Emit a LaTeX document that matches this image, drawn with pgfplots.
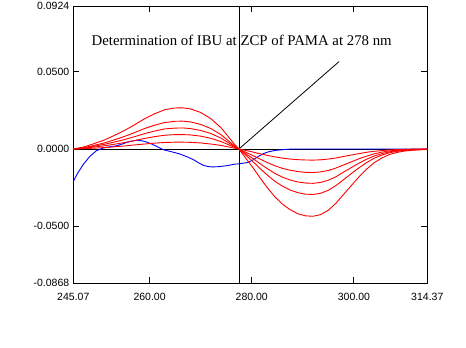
\documentclass[border=0pt]{standalone}
\usepackage{pgfplots}
\usepackage{pgfplotstable}
\pgfplotsset{compat=1.18}
\usepackage{fontspec}
\setmainfont{Liberation Sans}
\newfontfamily\titlefont{Liberation Serif}

\pgfplotstableread{
x a b c d e
245.07 0 0 0 0 0
247.0 0.0012 0.0008 0.0006 0.0004 0.0002
249.0 0.0033 0.0022 0.0017 0.0012 0.0005
251.0 0.0056 0.0038 0.0029 0.0020 0.0009
253.0 0.0086 0.0058 0.0044 0.0030 0.0014
255.0 0.0118 0.0080 0.0060 0.0041 0.0019
257.0 0.0155 0.0105 0.0079 0.0054 0.0026
259.0 0.0195 0.0132 0.0099 0.0068 0.0032
261.0 0.0228 0.0154 0.0116 0.0080 0.0038
263.0 0.0254 0.0171 0.0130 0.0089 0.0042
265.0 0.0265 0.0179 0.0135 0.0093 0.0044
266.5 0.0266 0.0180 0.0136 0.0093 0.0044
268.0 0.0259 0.0175 0.0132 0.0091 0.0043
270.0 0.0236 0.0159 0.0120 0.0083 0.0039
272.0 0.0196 0.0132 0.0100 0.0069 0.0032
274.0 0.0137 0.0092 0.0070 0.0048 0.0023
275.5 0.0076 0.0051 0.0039 0.0027 0.0013
276.5 0.0035 0.0024 0.0018 0.0012 0.0006
277.5 0 0 0 0 0
278.5 -0.0045 -0.0030 -0.0023 -0.0016 -0.0007
280.0 -0.0110 -0.0074 -0.0056 -0.0039 -0.0018
281.5 -0.0180 -0.0122 -0.0092 -0.0063 -0.0030
283.0 -0.0248 -0.0167 -0.0126 -0.0087 -0.0041
284.5 -0.0308 -0.0208 -0.0157 -0.0108 -0.0051
286.0 -0.0356 -0.0240 -0.0182 -0.0125 -0.0059
287.5 -0.0392 -0.0265 -0.0200 -0.0137 -0.0065
289.0 -0.0418 -0.0282 -0.0213 -0.0146 -0.0069
290.5 -0.0432 -0.0292 -0.0220 -0.0151 -0.0071
292.0 -0.0435 -0.0294 -0.0222 -0.0152 -0.0072
293.5 -0.0424 -0.0286 -0.0216 -0.0148 -0.0070
295.0 -0.0396 -0.0267 -0.0202 -0.0139 -0.0065
296.5 -0.0350 -0.0236 -0.0179 -0.0123 -0.0058
298.0 -0.0293 -0.0198 -0.0149 -0.0103 -0.0048
299.5 -0.0236 -0.0159 -0.0120 -0.0083 -0.0039
301.0 -0.0180 -0.0122 -0.0092 -0.0063 -0.0030
302.5 -0.0130 -0.0088 -0.0066 -0.0046 -0.0021
304.0 -0.0088 -0.0059 -0.0045 -0.0031 -0.0015
305.5 -0.0058 -0.0039 -0.0030 -0.0020 -0.0010
307.0 -0.0035 -0.0024 -0.0018 -0.0012 -0.0006
308.5 -0.0022 -0.0015 -0.0011 -0.0008 -0.0004
310.0 -0.0013 -0.0009 -0.0007 -0.0005 -0.0002
312.0 -0.0007 -0.0005 -0.0004 -0.0002 -0.0001
314.37 -0.0003 -0.0002 -0.0002 -0.0001 0
}\reddata

\pgfplotstableread{
x y
245.07 -0.0209
246.0 -0.0152
247.0 -0.0101
248.3 -0.0048
249.6 -0.0011
250.9 0.0006
252.2 0.0014
253.6 0.0021
255.0 0.0036
256.2 0.0049
257.5 0.0056
258.5 0.0053
259.4 0.0045
260.4 0.0032
261.4 0.0017
262.7 -0.0005
264.3 -0.0018
265.9 -0.0032
267.3 -0.0050
268.6 -0.0069
269.6 -0.0090
270.5 -0.0105
271.4 -0.0113
272.2 -0.0116
273.6 -0.0114
275.1 -0.0108
276.7 -0.0098
277.7 -0.0095
279.3 -0.0087
280.3 -0.0070
281.3 -0.0048
282.3 -0.0030
283.2 -0.0019
284.6 -0.0009
286.5 -0.0003
288.0 0.0000
314.37 0.0000
}\bluedata

\begin{document}
\begin{tikzpicture}
\useasboundingbox (-73.3pt,-64.7pt) rectangle (392.7pt,283.3pt);
\begin{axis}[
  at={(0pt,0pt)}, anchor=south west,
  scale only axis, width=354pt, height=277.3pt,
  xmin=245.07, xmax=314.37, ymin=-0.0868, ymax=0.0924,
  xtick={245.07,260,280,300,314.37},
  xticklabels={245.07,260.00,280.00,300.00,314.37},
  ytick={-0.0868,-0.05,0,0.05,0.0924},
  yticklabels={-0.0868,-0.0500,0.0000,0.0500,0.0924},
  scaled x ticks=false, scaled y ticks=false,
  tick align=inside, major tick length=6pt,
  every tick/.style={black, line width=0.9pt},
  axis line style={line width=0.9pt},
  /pgf/number format/assume math mode=true,
  tick label style={font=\fontsize{10.5}{11}\selectfont},
  xticklabel style={yshift=-6.3pt},
  yticklabel style={xshift=-0.5pt},
  clip=true,
]
\addplot[black, line width=0.9pt] coordinates {(245.07,0) (314.37,0)};
\addplot[black, line width=0.9pt] coordinates {(277.5,-0.0868) (277.5,0.0924)};
\addplot[black, line width=0.8pt] coordinates {(277.5,0) (297.1,0.0565)};
\addplot[blue, line width=0.9pt] table[x=x,y=y] {\bluedata};
\addplot[red, line width=0.9pt] table[x=x,y=a] {\reddata};
\addplot[red, line width=0.9pt] table[x=x,y=b] {\reddata};
\addplot[red, line width=0.9pt] table[x=x,y=c] {\reddata};
\addplot[red, line width=0.9pt] table[x=x,y=d] {\reddata};
\addplot[red, line width=0.9pt] table[x=x,y=e] {\reddata};
\node[anchor=base, inner sep=0pt, font=\titlefont\fontsize{14.8}{16}\selectfont]
  at (axis description cs:0.4757,0.8583) {Determination of IBU at ZCP of PAMA at 278 nm};
\node[inner sep=0pt, font=\fontsize{10}{11}\selectfont]
  at (axis description cs:0.4955,-0.0927) {nm.};
\node[inner sep=0pt, rotate=90, font=\fontsize{8.8}{9}\selectfont]
  at (axis description cs:-0.1966,0.520) {Abs.};
\end{axis}
\end{tikzpicture}
\end{document}
